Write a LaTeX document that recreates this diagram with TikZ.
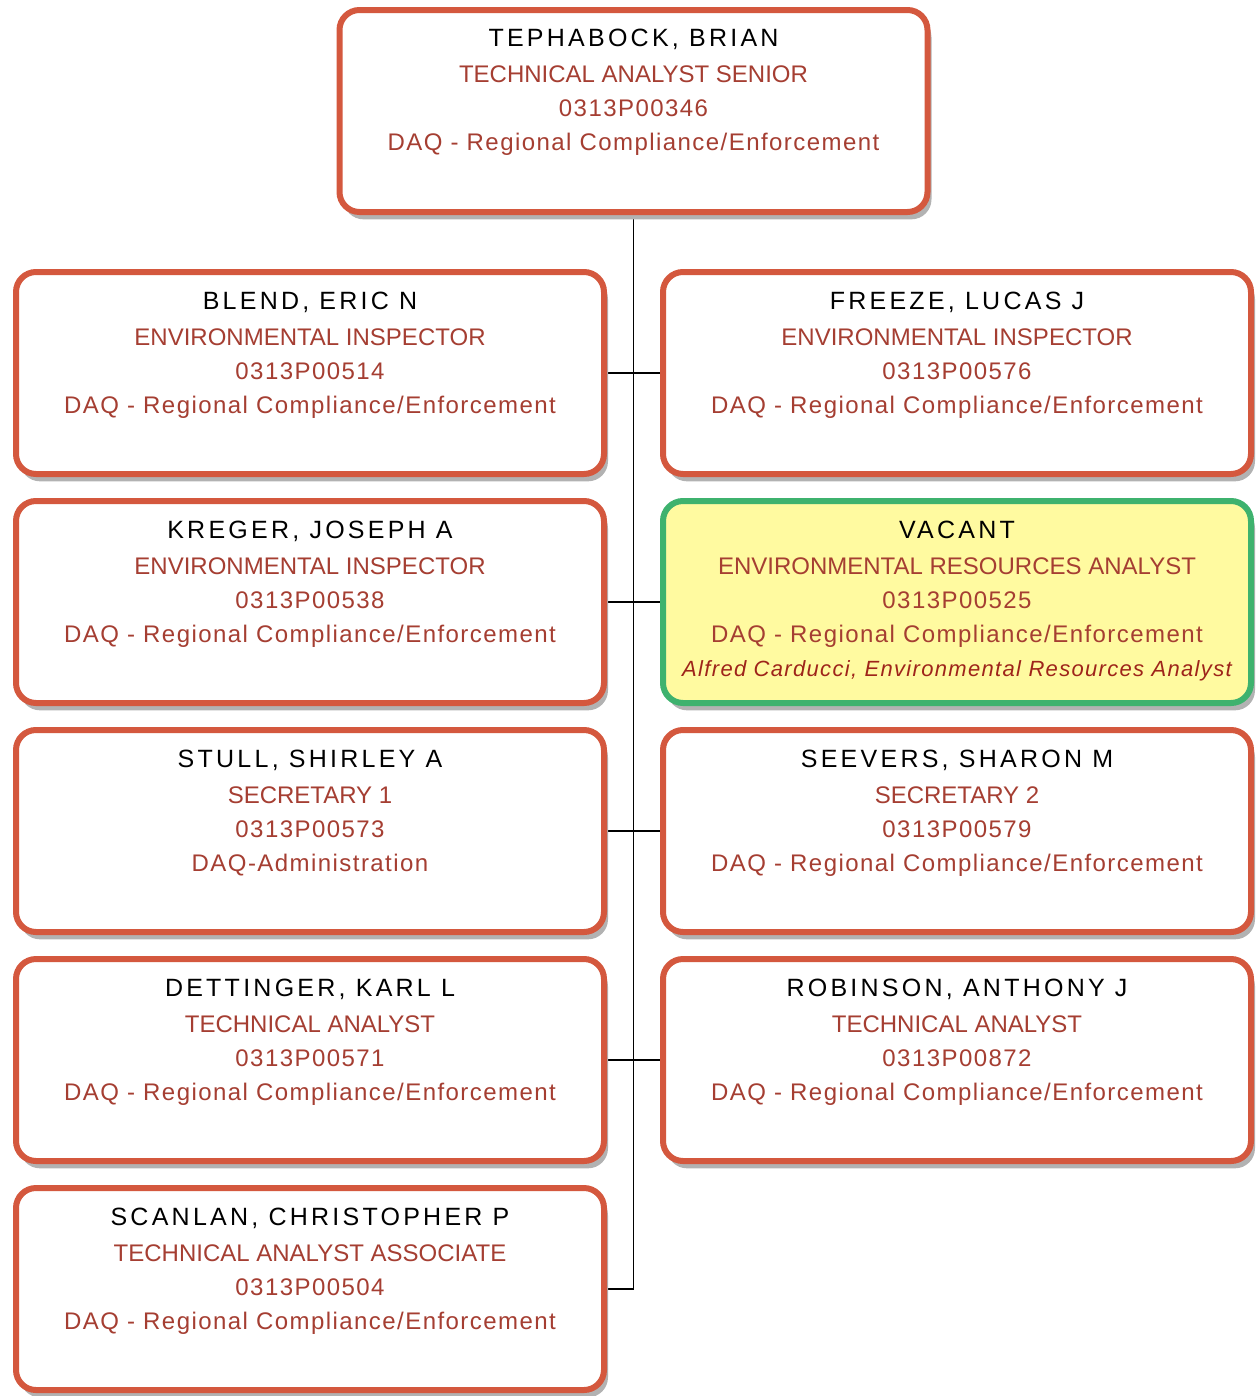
\documentclass[tikz,border=0pt]{standalone}
\usepackage{fontspec}
\setmainfont{Liberation Sans}
\newfontfamily\namefont[LetterSpace=13]{Liberation Sans}
\newfontfamily\codefont[LetterSpace=6]{Liberation Sans}
\usetikzlibrary{
    positioning,
    shadows,
    backgrounds
}
\definecolor{boxred}{RGB}{212,88,62}
\definecolor{titlered}{RGB}{165,62,50}
\definecolor{notered}{RGB}{158,36,26}
\definecolor{vacgreen}{RGB}{62,178,110}
\definecolor{vacyellow}{RGB}{255,250,160}
\tikzset{
  post/.style = {
      draw=boxred,
      line width=4.5pt,
      rounded corners=15pt,
      fill=white,
      minimum width=441pt,
      minimum height=151.5pt,
      inner sep=0pt,
      outer sep=0pt,
      drop shadow={shadow xshift=3pt, shadow yshift=-5.5pt,
                   fill=black!30, opacity=1}
  },
  vacant/.style = {
      post,
      draw=vacgreen,
      fill=vacyellow
  },
  info/.style = {
      anchor=north,
      align=center,
      inner sep=0pt,
      text=titlered,
      font=\fontsize{18}{25.5}\selectfont
  },
  spine/.style = {
      line width=1.2pt,
      draw=black
  }
}
% name / title / position number / section
\newcommand{\postinfo}[4]{%
  {\namefont\fontsize{18.75}{25.5}\selectfont\color{black}\rule{0pt}{15pt}#1}\\[1.5pt]
  #2\\ {\codefont #3}\\ {\codefont #4}}

\begin{document}
\begin{tikzpicture}[x=0.75pt, y=-0.75pt, node distance=20.25pt]
    \useasboundingbox (0,0) rectangle (1257,1396);
    % Boxes
    \node[post] (boss) at (633.5,111) {};
    \node[post] (blend) at (310,373) {};
    \node[post, right=44.25pt of blend] (freeze) {};
    \node[post, below=of blend] (kreger) {};
    \node[vacant, below=of freeze] (vacant) {};
    \node[post, below=of kreger] (stull) {};
    \node[post, below=of vacant] (seevers) {};
    \node[post, below=of stull] (dettinger) {};
    \node[post, below=of seevers] (robinson) {};
    \node[post, below=of dettinger] (scanlan) {};
    % Texts
    \node[info] (boss-t) at ([yshift=-12.2pt]boss.north)
        {\postinfo{TEPHABOCK, BRIAN}{TECHNICAL ANALYST SENIOR}{0313P00346}{DAQ - Regional Compliance/Enforcement}};
    \node[info] (blend-t) at ([yshift=-13.1pt]blend.north)
        {\postinfo{BLEND, ERIC N}{ENVIRONMENTAL INSPECTOR}{0313P00514}{DAQ - Regional Compliance/Enforcement}};
    \node[info] (freeze-t) at ([yshift=-13.1pt]freeze.north)
        {\postinfo{FREEZE, LUCAS J}{ENVIRONMENTAL INSPECTOR}{0313P00576}{DAQ - Regional Compliance/Enforcement}};
    \node[info] (kreger-t) at ([yshift=-13.1pt]kreger.north)
        {\postinfo{KREGER, JOSEPH A}{ENVIRONMENTAL INSPECTOR}{0313P00538}{DAQ - Regional Compliance/Enforcement}};
    \node[info] (vacant-t) at ([yshift=-13.1pt]vacant.north)
        {\postinfo{VACANT}{ENVIRONMENTAL RESOURCES ANALYST}{0313P00525}{DAQ - Regional Compliance/Enforcement}\\
         {\codefont\itshape\fontsize{16.5}{25.5}\selectfont\color{notered}Alfred Carducci, Environmental Resources Analyst}};
    \node[info] (stull-t) at ([yshift=-13.1pt]stull.north)
        {\postinfo{STULL, SHIRLEY A}{SECRETARY 1}{0313P00573}{DAQ-Administration}};
    \node[info] (seevers-t) at ([yshift=-13.1pt]seevers.north)
        {\postinfo{SEEVERS, SHARON M}{SECRETARY 2}{0313P00579}{DAQ - Regional Compliance/Enforcement}};
    \node[info] (dettinger-t) at ([yshift=-13.1pt]dettinger.north)
        {\postinfo{DETTINGER, KARL L}{TECHNICAL ANALYST}{0313P00571}{DAQ - Regional Compliance/Enforcement}};
    \node[info] (robinson-t) at ([yshift=-13.1pt]robinson.north)
        {\postinfo{ROBINSON, ANTHONY J}{TECHNICAL ANALYST}{0313P00872}{DAQ - Regional Compliance/Enforcement}};
    \node[info] (scanlan-t) at ([yshift=-13.1pt]scanlan.north)
        {\postinfo{SCANLAN, CHRISTOPHER P}{TECHNICAL ANALYST ASSOCIATE}{0313P00504}{DAQ - Regional Compliance/Enforcement}};
    % Lines
    \begin{scope}[on background layer]
        \draw[spine] (boss.south) |- (scanlan.east);
        \draw[spine] (blend.east) -- (freeze.west);
        \draw[spine] (kreger.east) -- (vacant.west);
        \draw[spine] (stull.east) -- (seevers.west);
        \draw[spine] (dettinger.east) -- (robinson.west);
    \end{scope}
\end{tikzpicture}
\end{document}
